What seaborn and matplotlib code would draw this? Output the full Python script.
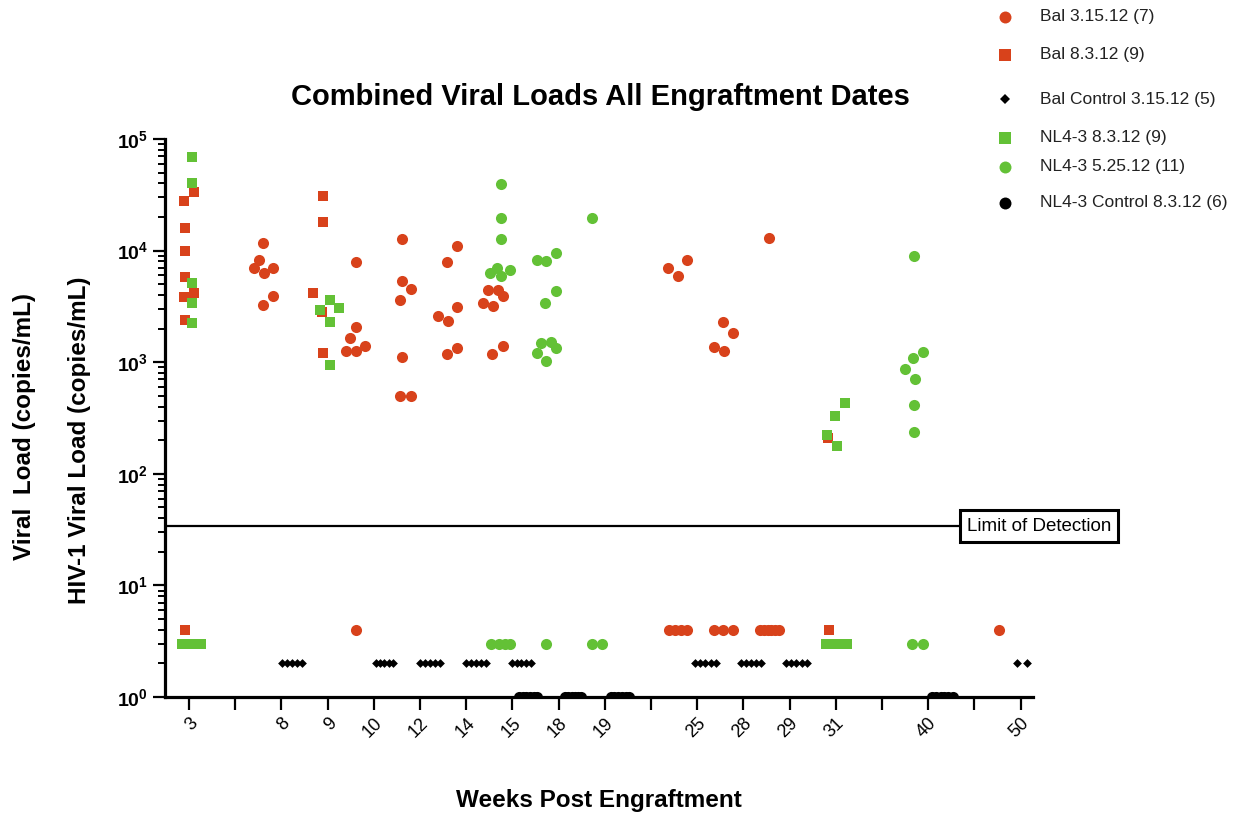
import matplotlib
matplotlib.use("Agg")
import matplotlib.pyplot as plt
import matplotlib.transforms as mtransforms
from matplotlib.lines import Line2D
from matplotlib.ticker import LogLocator, NullFormatter, FixedLocator, FixedFormatter
import pandas as pd
import seaborn as sns

# ---------------------------------------------------------------------------
# Data: x is the slot index along the week axis (one tick per slot),
# y is the viral load in copies/mL.
# ---------------------------------------------------------------------------
week_labels = ["3", "", "8", "9", "10", "12", "14", "15", "18", "19", "",
               "25", "28", "29", "31", "", "40", "", "50"]

series_names = ["Bal 3.15.12 (7)", "Bal 8.3.12 (9)", "Bal Control 3.15.12 (5)",
                "NL4-3 8.3.12 (9)", "NL4-3 5.25.12 (11)", "NL4-3 Control 8.3.12 (6)"]

bal_31512_pos = [1.61, 1.52, 1.41, 1.62, 1.82, 1.81, 1.60,
                 3.61, 3.61, 3.48, 3.39, 3.61, 3.81, 3.61,
                 4.60, 4.60, 4.80, 4.57, 4.62, 4.57, 4.80,
                 5.81, 5.58, 5.81, 5.40, 5.61, 5.81, 5.58,
                 6.48, 6.69, 6.80, 6.37, 6.59, 6.79, 6.56,
                 10.37, 10.58, 10.77, 10.38, 10.51, 10.64, 10.77,
                 11.57, 11.78, 11.37, 11.58, 11.37, 11.57, 11.78,
                 12.56, 12.36, 12.45, 12.53, 12.60, 12.68, 12.77,
                 17.54]
bal_31512_load = [11800, 8240, 6940, 6340, 6940, 3920, 3260,
                  7960, 2080, 1640, 1270, 1270, 1410, 4,
                  12600, 5340, 4500, 3610, 1110, 498, 498,
                  11000, 7850, 3140, 2610, 2340, 1350, 1185,
                  4440, 4440, 3950, 3370, 3190, 1410, 1185,
                  7030, 5960, 8240, 4, 4, 4, 4,
                  2310, 1820, 1360, 1260, 4, 4, 4,
                  13100, 4, 4, 4, 4, 4, 4,
                  4]

bal_8312_pos = [-0.10, 0.11, -0.08, -0.08, -0.08, -0.10, 0.11, -0.08, -0.09,
                2.89, 2.89, 2.69, 2.87, 2.89,
                13.84, 13.86]
bal_8312_load = [27800, 33700, 16000, 9980, 5770, 3820, 4200, 2375, 4,
                 30800, 18200, 4140, 2840, 1200,
                 208, 4]

bal_ctrl_pos = [2.01, 2.12, 2.23, 2.34, 2.45,
                4.04, 4.13, 4.23, 4.32, 4.42,
                5.00, 5.11, 5.22, 5.32, 5.43,
                6.00, 6.10, 6.21, 6.32, 6.43,
                6.99, 7.09, 7.19, 7.30, 7.40,
                10.96, 11.07, 11.18, 11.30, 11.41,
                11.94, 12.05, 12.16, 12.27, 12.38,
                12.93, 13.04, 13.15, 13.26, 13.37,
                17.92, 18.13]
bal_ctrl_load = [2, 2, 2, 2, 2,
                 2, 2, 2, 2, 2,
                 2, 2, 2, 2, 2,
                 2, 2, 2, 2, 2,
                 2, 2, 2, 2, 2,
                 2, 2, 2, 2, 2,
                 2, 2, 2, 2, 2,
                 2, 2, 2, 2, 2,
                 2, 2]

nl43_8312_pos = [0.07, 0.07, 0.07, 0.07, 0.07, -0.16, -0.02, 0.13, 0.27,
                 2.84, 3.05, 3.25, 3.05, 3.05,
                 13.80, 13.98, 14.21, 14.03, 13.78, 13.93, 14.09, 14.24]
nl43_8312_load = [68600, 40100, 5090, 3410, 2230, 3, 3, 3, 3,
                  2940, 3610, 3040, 2310, 944,
                  223, 332, 429, 177, 3, 3, 3, 3]

nl43_52512_pos = [6.75, 6.75, 6.75, 6.52, 6.66, 6.75, 6.95, 6.53, 6.71, 6.83, 6.95,
                  7.53, 7.73, 7.94, 7.94, 7.71, 7.63, 7.84, 7.94, 7.53, 7.73, 7.73,
                  8.72, 8.72, 8.93,
                  15.69, 15.89, 15.68, 15.50, 15.72, 15.69, 15.69, 15.66, 15.88]
nl43_52512_load = [39300, 19500, 12600, 6300, 6940, 5920, 6700, 3, 3, 3, 3,
                   8240, 8070, 9460, 4350, 3370, 1480, 1530, 1330, 1200, 1025, 3,
                   19700, 3, 3,
                   8950, 1240, 1080, 869, 711, 411, 238, 3, 3]

nl43_ctrl_pos = [7.14, 7.22, 7.30, 7.38, 7.46, 7.53,
                 8.14, 8.21, 8.28, 8.35, 8.42, 8.48,
                 9.13, 9.21, 9.29, 9.37, 9.45, 9.52,
                 16.09, 16.18, 16.27, 16.35, 16.44, 16.53]
nl43_ctrl_load = [1, 1, 1, 1, 1, 1,
                  1, 1, 1, 1, 1, 1,
                  1, 1, 1, 1, 1, 1,
                  1, 1, 1, 1, 1, 1]

limit_of_detection = 34

# ---------------------------------------------------------------------------
# Long-form table
# ---------------------------------------------------------------------------
series_data = [
    (bal_31512_pos, bal_31512_load),
    (bal_8312_pos, bal_8312_load),
    (bal_ctrl_pos, bal_ctrl_load),
    (nl43_8312_pos, nl43_8312_load),
    (nl43_52512_pos, nl43_52512_load),
    (nl43_ctrl_pos, nl43_ctrl_load),
]
df = pd.concat(
    [pd.DataFrame({"pos": p, "load": v, "group": name})
     for name, (p, v) in zip(series_names, series_data)],
    ignore_index=True,
)

RED = "#D8421B"
GREEN = "#63C136"
BLACK = "#000000"
styles = {
    series_names[0]: dict(color=RED, marker="o", s=64, leg_ms=8.6),
    series_names[1]: dict(color=RED, marker="s", s=56, leg_ms=8.0),
    series_names[2]: dict(color=BLACK, marker="D", s=20, leg_ms=4.8),
    series_names[3]: dict(color=GREEN, marker="s", s=56, leg_ms=8.0),
    series_names[4]: dict(color=GREEN, marker="o", s=64, leg_ms=8.6),
    series_names[5]: dict(color=BLACK, marker="o", s=64, leg_ms=8.6),
}

# ---------------------------------------------------------------------------
# Figure
# ---------------------------------------------------------------------------
sns.set_style("ticks")
plt.rcParams["font.family"] = ["Liberation Sans", "DejaVu Sans"]
plt.rcParams["mathtext.fontset"] = "custom"
plt.rcParams["mathtext.rm"] = "Liberation Sans"
plt.rcParams["mathtext.bf"] = "Liberation Sans:bold"
for key in ("text.color", "axes.labelcolor", "xtick.color", "ytick.color",
            "axes.edgecolor"):
    plt.rcParams[key] = "black"

W, H = 1250, 815
fig = plt.figure(figsize=(W / 100, H / 100), dpi=100)
ax = fig.add_axes([165 / W, 1 - 697 / H, (1033 - 165) / W, (697 - 139) / H])

for name in series_names:
    st = styles[name]
    sns.scatterplot(data=df[df["group"] == name], x="pos", y="load",
                    color=st["color"], marker=st["marker"], s=st["s"],
                    linewidth=0, legend=False, ax=ax)

ax.set_yscale("log")
ax.set_ylim(1, 1e5)
ax.set_xlim(-0.52, 18.27)

# limit of detection
ax.axhline(limit_of_detection, color="black", lw=1.6, zorder=1)
lod_trans = mtransforms.blended_transform_factory(ax.transAxes, ax.transData)
ax.text(1.007, limit_of_detection, "Limit of Detection", transform=lod_trans,
        ha="center", va="center", fontsize=13.5, color="black", zorder=10,
        bbox=dict(boxstyle="square,pad=0.38", facecolor="white",
                  edgecolor="black", linewidth=2.2), clip_on=False)

# axes styling
sns.despine(ax=ax)
for side in ("left", "bottom"):
    ax.spines[side].set_linewidth(2.3)
    ax.spines[side].set_color("black")

ax.xaxis.set_major_locator(FixedLocator(range(len(week_labels))))
ax.xaxis.set_major_formatter(FixedFormatter(week_labels))
ax.tick_params(axis="x", which="major", direction="out", length=9, width=1.6,
               color="black", labelcolor="black", pad=4, labelsize=13,
               labelrotation=45)
for lbl in ax.get_xticklabels():
    lbl.set_ha("right")
    lbl.set_va("top")
    lbl.set_rotation_mode("anchor")

ax.yaxis.set_minor_locator(LogLocator(base=10, subs=range(2, 10), numticks=20))
ax.yaxis.set_minor_formatter(NullFormatter())
ax.set_yticks([1, 10, 100, 1000, 10000, 100000])
ax.set_yticklabels([r"$\mathbf{10^{%d}}$" % k for k in range(6)])
ax.tick_params(axis="y", which="major", direction="out", length=9, width=1.6,
               color="black", labelcolor="black", pad=3, labelsize=14)
ax.tick_params(axis="y", which="minor", direction="out", length=5, width=1.4,
               color="black")

ax.set_xlabel("")
ax.set_ylabel("")

# titles and axis labels
fig.text(600 / W, 1 - 97 / H, "Combined Viral Loads All Engraftment Dates",
         ha="center", va="center", fontsize=21, fontweight="bold", color="black")
fig.text(599 / W, 1 - 800 / H, "Weeks Post Engraftment",
         ha="center", va="center", fontsize=17.5, fontweight="bold", color="black")
fig.text(25 / W, 1 - 427 / H, "Viral  Load (copies/mL)", rotation=90,
         ha="center", va="center", fontsize=17.5, fontweight="bold", color="black")
fig.text(80 / W, 1 - 440 / H, "HIV-1 Viral Load (copies/mL)", rotation=90,
         ha="center", va="center", fontsize=17.5, fontweight="bold", color="black")

# legend entries
legend_rows = [16.7, 55, 99.3, 137.7, 166.7, 202.7]
for name, row in zip(series_names, legend_rows):
    st = styles[name]
    fig.add_artist(Line2D([1005 / W], [1 - row / H], transform=fig.transFigure,
                          marker=st["marker"], markersize=st["leg_ms"],
                          color=st["color"], markeredgewidth=0, linestyle="none"))
    fig.text(1040 / W, 1 - row / H, name, ha="left", va="center",
             fontsize=12.5, color="#222222")

fig.savefig("out.png", dpi=100)
